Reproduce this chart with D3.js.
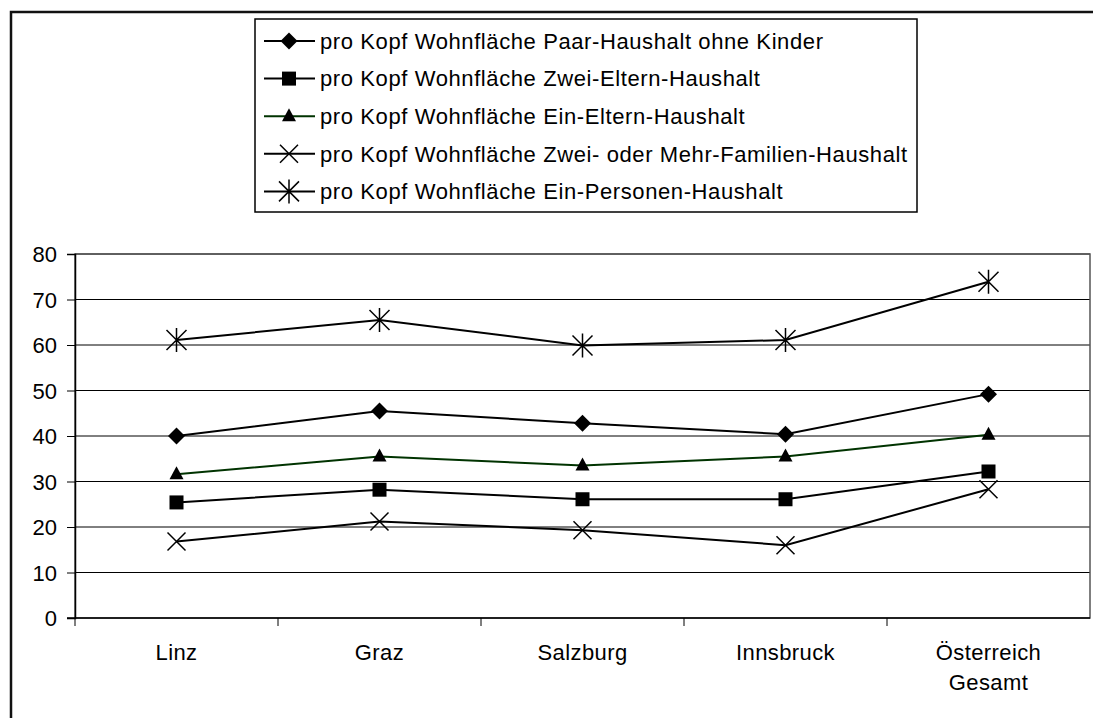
<!DOCTYPE html>
<html lang="de">
<head>
<meta charset="UTF-8">
<title>pro Kopf Wohnfläche</title>
<script src="https://d3js.org/d3.v7.min.js"></script>
<style>
    body { margin: 0; background: #fff; }
    svg text { font-family: "Liberation Sans", Arial, sans-serif; fill: #000; }
</style>
</head>
<body>
<div id="chart"></div>
<script>
// categories and series
const cities = ["Linz", "Graz", "Salzburg", "Innsbruck", "Österreich Gesamt"];
const seriesNames = [
    "pro Kopf Wohnfläche Paar-Haushalt ohne Kinder",
    "pro Kopf Wohnfläche Zwei-Eltern-Haushalt",
    "pro Kopf Wohnfläche Ein-Eltern-Haushalt",
    "pro Kopf Wohnfläche Zwei- oder Mehr-Familien-Haushalt",
    "pro Kopf Wohnfläche Ein-Personen-Haushalt"
];
const paarOhneKinder = [40.0, 45.5, 42.8, 40.4, 49.2];
const zweiEltern     = [25.4, 28.2, 26.1, 26.1, 32.2];
const einEltern      = [31.6, 35.5, 33.5, 35.5, 40.3];
const mehrFamilien   = [16.8, 21.2, 19.3, 16.0, 28.3];
const einPerson      = [61.1, 65.5, 59.9, 61.1, 73.9];
const yTicks = [0, 10, 20, 30, 40, 50, 60, 70, 80];

const allSeries = [paarOhneKinder, zweiEltern, einEltern, mehrFamilien, einPerson];
const markers = ["diamond", "square", "triangle", "cross", "star"];
const lineColors = ["#000", "#000", "#003300", "#000", "#000"];

const width = 1093, height = 718;
const plot = { left: 75, right: 1090, top: 254, bottom: 618 };

const svg = d3.select("#chart").append("svg")
    .attr("width", width).attr("height", height);

// outer chart frame (runs off the right and bottom edge)
svg.append("rect")
    .attr("x", 11).attr("y", 12)
    .attr("width", 1100).attr("height", 720)
    .attr("fill", "none").attr("stroke", "#111").attr("stroke-width", 2.5);

const x = d3.scaleBand().domain(cities).range([plot.left, plot.right]);
const y = d3.scaleLinear().domain([0, 80]).range([plot.bottom, plot.top]);

// gridlines
svg.append("g").selectAll("line")
    .data(yTicks.filter(d => d > 0))
    .enter().append("line")
    .attr("x1", plot.left).attr("x2", plot.right)
    .attr("y1", d => y(d)).attr("y2", d => y(d))
    .attr("stroke", "#000").attr("stroke-width", 1);

// plot area border
svg.append("rect")
    .attr("x", plot.left).attr("y", plot.top)
    .attr("width", plot.right - plot.left).attr("height", plot.bottom - plot.top)
    .attr("fill", "none").attr("stroke", "#555").attr("stroke-width", 1.5);

// y axis
const yAxis = svg.append("g")
    .attr("transform", `translate(${plot.left},0)`)
    .call(d3.axisLeft(y).tickValues(yTicks).tickSize(8).tickPadding(10));
yAxis.select(".domain").attr("stroke", "#000").attr("stroke-width", 1.5);
yAxis.selectAll(".tick line").attr("stroke", "#000");
yAxis.selectAll("text").style("font-size", "22px").attr("dy", "0.35em");

// x axis: ticks at category boundaries
svg.append("line")
    .attr("x1", plot.left - 8).attr("x2", plot.right)
    .attr("y1", plot.bottom).attr("y2", plot.bottom)
    .attr("stroke", "#000").attr("stroke-width", 1.5);
svg.append("g").selectAll("line")
    .data(cities)
    .enter().append("line")
    .attr("x1", d => x(d)).attr("x2", d => x(d))
    .attr("y1", plot.bottom).attr("y2", plot.bottom + 8)
    .attr("stroke", "#000");

const xLabels = svg.append("g").selectAll("text")
    .data(cities)
    .enter().append("text")
    .attr("x", d => x(d) + x.bandwidth() / 2)
    .attr("y", 660)
    .attr("text-anchor", "middle")
    .style("font-size", "22px")
    .style("letter-spacing", "0.4px");
xLabels.each(function (d) {
    const words = d.split(" ");
    d3.select(this).selectAll("tspan")
        .data(words)
        .enter().append("tspan")
        .attr("x", x(d) + x.bandwidth() / 2)
        .attr("dy", (w, i) => i === 0 ? 0 : 30)
        .text(w => w);
});

// marker drawing
function drawMarker(g, type, cx, cy) {
    if (type === "diamond") {
        g.append("path")
            .attr("d", `M${cx},${cy - 8.5}L${cx + 8.5},${cy}L${cx},${cy + 8.5}L${cx - 8.5},${cy}Z`)
            .attr("fill", "#000");
    } else if (type === "square") {
        g.append("rect")
            .attr("x", cx - 7).attr("y", cy - 7).attr("width", 14).attr("height", 14)
            .attr("fill", "#000");
    } else if (type === "triangle") {
        g.append("path")
            .attr("d", `M${cx},${cy - 8}L${cx + 7},${cy + 5}L${cx - 7},${cy + 5}Z`)
            .attr("fill", "#000");
    } else if (type === "cross") {
        g.append("path")
            .attr("d", `M${cx - 9},${cy - 9}L${cx + 9},${cy + 9}M${cx - 9},${cy + 9}L${cx + 9},${cy - 9}`)
            .attr("stroke", "#000").attr("stroke-width", 1.5);
    } else if (type === "star") {
        g.append("path")
            .attr("d", `M${cx - 10},${cy - 10}L${cx + 10},${cy + 10}M${cx - 10},${cy + 10}L${cx + 10},${cy - 10}M${cx},${cy - 12}L${cx},${cy + 12}`)
            .attr("stroke", "#000").attr("stroke-width", 1.5);
    }
}

const line = d3.line()
    .x((d, i) => x(cities[i]) + x.bandwidth() / 2)
    .y(d => y(d));

allSeries.forEach((vals, s) => {
    const g = svg.append("g");
    g.append("path")
        .datum(vals)
        .attr("d", line)
        .attr("fill", "none")
        .attr("stroke", lineColors[s])
        .attr("stroke-width", 2);
    vals.forEach((v, i) => drawMarker(g, markers[s], x(cities[i]) + x.bandwidth() / 2, y(v)));
});

// legend
const legend = svg.append("g");
legend.append("rect")
    .attr("x", 255).attr("y", 19).attr("width", 662).attr("height", 193)
    .attr("fill", "#fff").attr("stroke", "#000").attr("stroke-width", 1.5);

seriesNames.forEach((name, s) => {
    const ly = 41 + s * 37.6;
    legend.append("line")
        .attr("x1", 264).attr("x2", 315).attr("y1", ly).attr("y2", ly)
        .attr("stroke", lineColors[s]).attr("stroke-width", 2);
    drawMarker(legend, markers[s], 289, ly);
    legend.append("text")
        .attr("x", 320).attr("y", ly).attr("dy", "0.35em")
        .style("font-size", "22px")
        .style("letter-spacing", "0.6px")
        .text(name);
});
</script>
</body>
</html>
